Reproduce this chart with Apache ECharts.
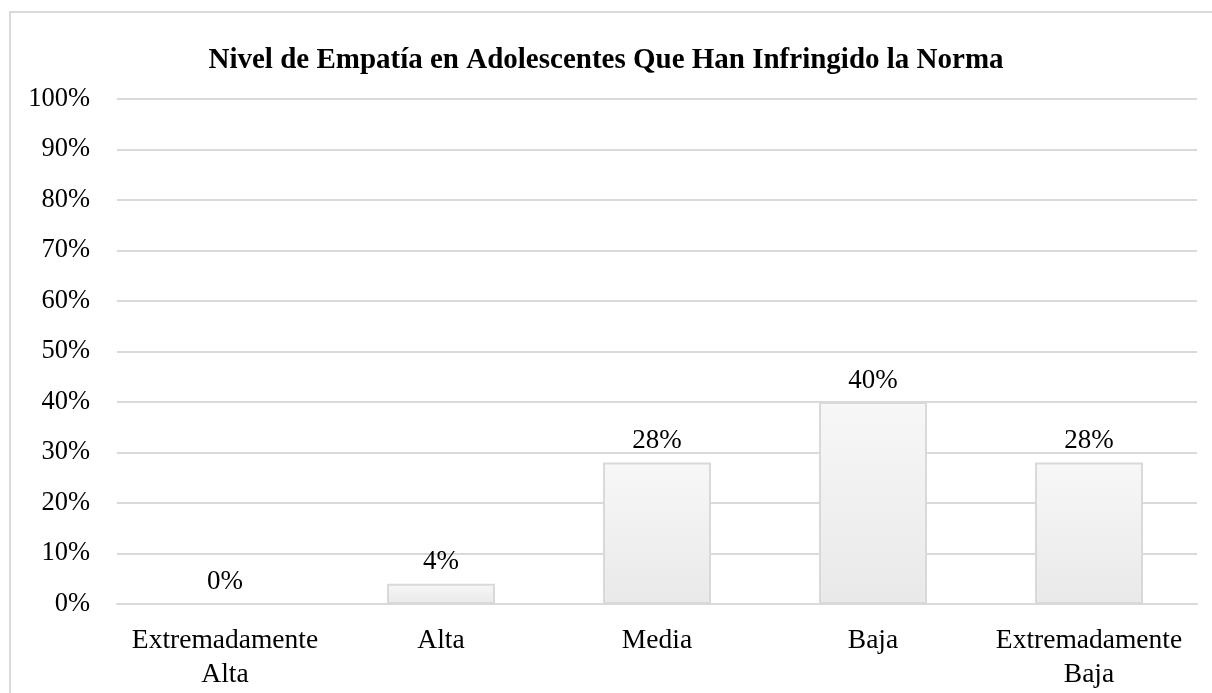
<!DOCTYPE html>
<html><head><meta charset="utf-8">
<script src="https://cdn.jsdelivr.net/npm/echarts@6/dist/echarts.min.js"></script>
<style>html,body{margin:0;padding:0;background:#fff}#c{width:1212px;height:693px}</style>
</head><body><div id="c"></div>
<script>
var categories = ['Extremadamente\nAlta', 'Alta', 'Media', 'Baja', 'Extremadamente\nBaja'];
var values = [0, 4, 28, 40, 28];
var titleText = 'Nivel de Empatía en Adolescentes Que Han Infringido la Norma';
var font = '"Liberation Serif", "Times New Roman", serif';
var chart = echarts.init(document.getElementById('c'));
chart.setOption({
  animation: false,
  backgroundColor: '#fff',
  graphic: [{type: 'rect', shape: {x: 10, y: 12, width: 1220, height: 700}, style: {fill: 'none', stroke: '#d9d9d9', lineWidth: 2}, silent: true}],
  title: {text: titleText, left: 'center', top: 41, textStyle: {fontFamily: font, fontWeight: 'bold', fontSize: 29, color: '#000'}},
  grid: {left: 117, right: 15, top: 99, bottom: 89},
  xAxis: {type: 'category', data: categories,
    axisLine: {lineStyle: {color: '#d9d9d9', width: 2}}, axisTick: {show: false},
    axisLabel: {fontFamily: font, fontSize: 27.5, color: '#000', margin: 20, lineHeight: 34, interval: 0}},
  yAxis: {type: 'value', min: 0, max: 100, interval: 10,
    axisLabel: {formatter: '{value}%', fontFamily: font, fontSize: 26.5, color: '#000', margin: 27},
    splitLine: {lineStyle: {color: '#d9d9d9', width: 2}}, axisLine: {show: false}, axisTick: {show: false}},
  series: [{type: 'bar', data: values, barWidth: '50%',
    itemStyle: {borderColor: '#d9d9d9', borderWidth: 2,
      color: {type: 'linear', x: 0, y: 0, x2: 0, y2: 1, colorStops: [{offset: 0, color: '#f7f7f7'}, {offset: 1, color: '#e9e9e9'}]}},
    label: {show: true, position: 'top', distance: 8, formatter: '{c}%', fontFamily: font, fontSize: 27, color: '#000'}}]
});
</script></body></html>
